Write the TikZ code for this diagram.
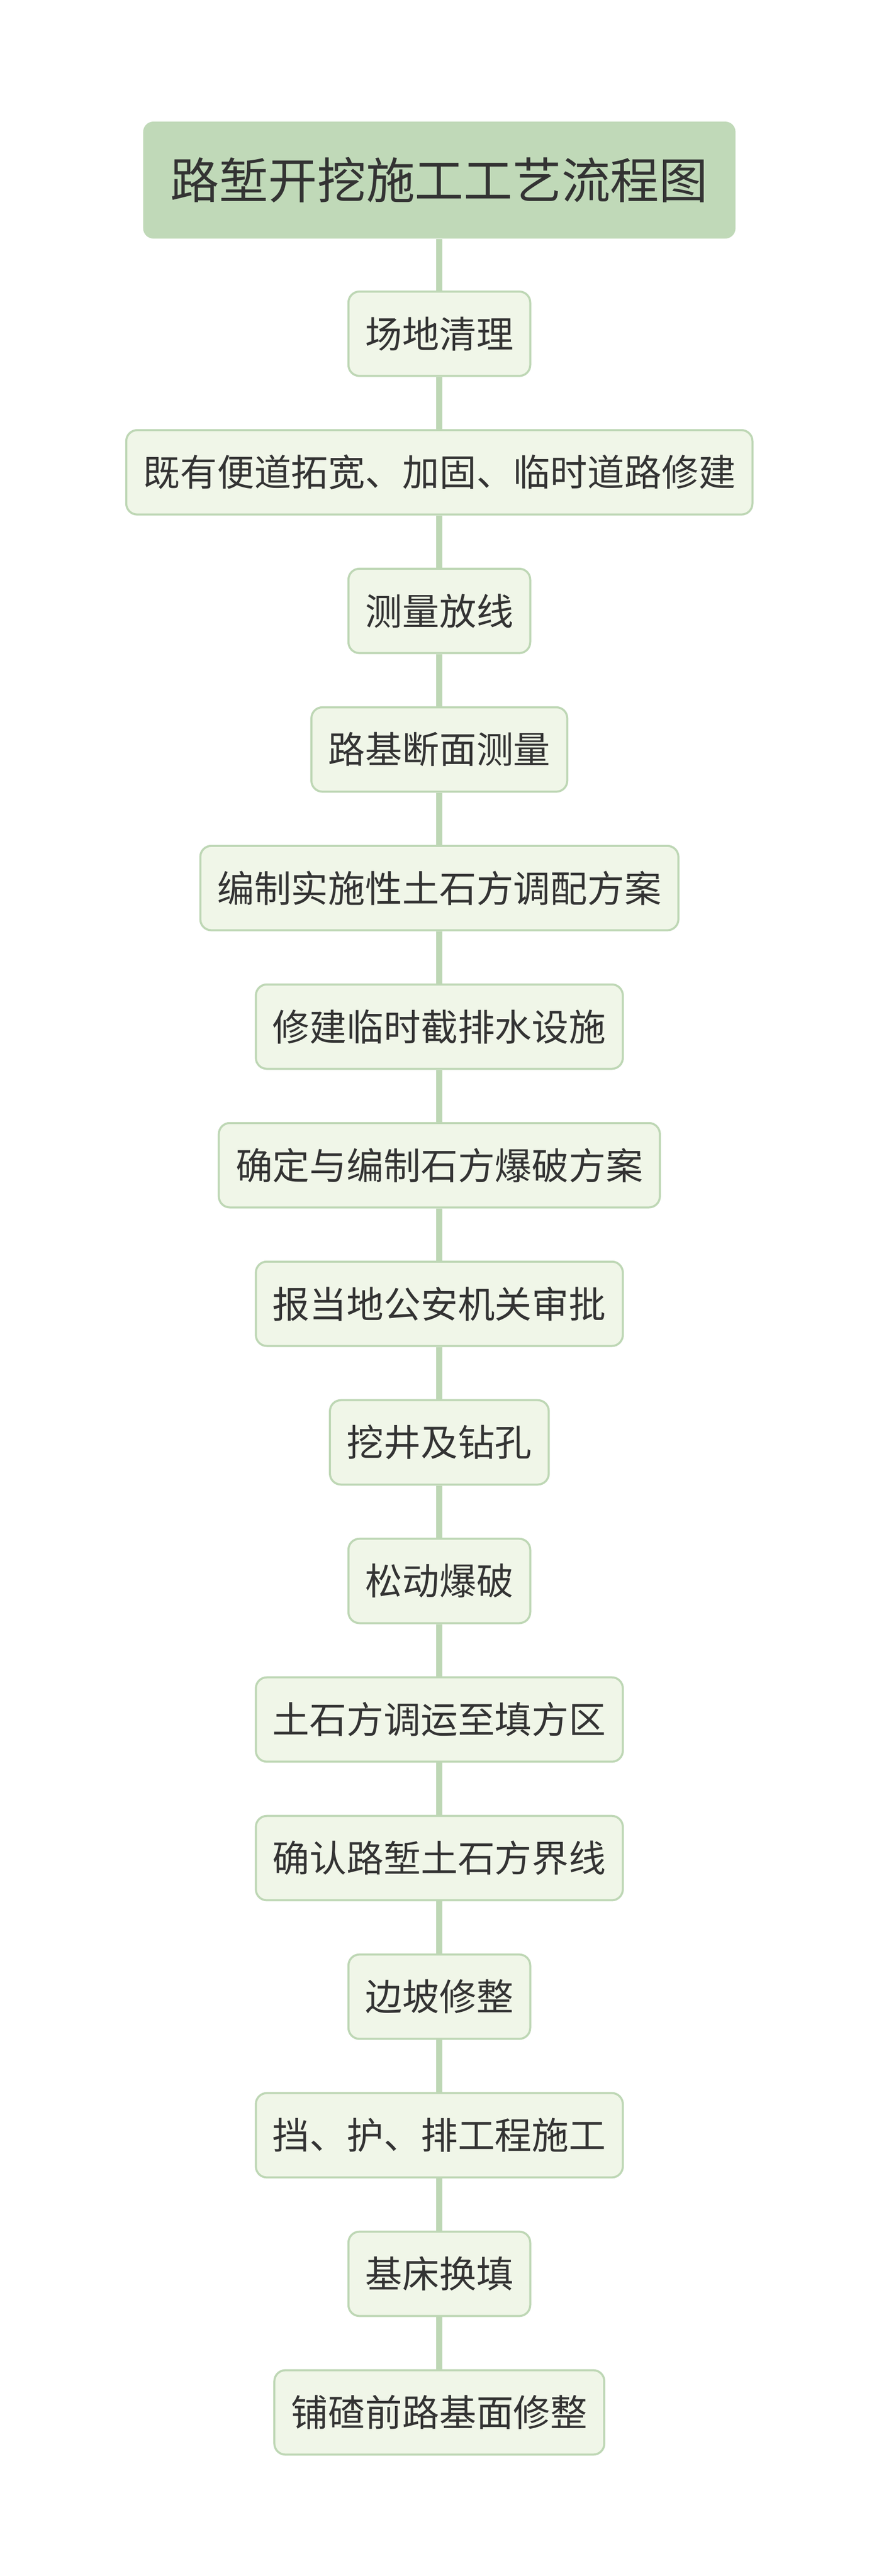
\documentclass[tikz,border=0pt]{standalone}
\usepackage{fontspec}
\setmainfont{Noto Sans CJK SC}
\usepackage{tikz}
\usetikzlibrary{shapes,arrows,positioning,calc}
\usepackage{xcolor}
\definecolor{titlegreen}{RGB}{192,217,184}
\definecolor{linegreen}{RGB}{190,215,181}
\definecolor{stepfill}{RGB}{240,246,232}
\definecolor{textgray}{RGB}{51,51,51}

\begin{document}
\begin{tikzpicture}[
        titlebox/.style={rectangle,fill=titlegreen,rounded corners=0.3cm,inner xsep=0.8cm,minimum height=3.41cm,text=textgray,font=\fontsize{40.5}{48}\selectfont},
        stepbox/.style={rectangle,fill=stepfill,draw=linegreen,line width=0.06cm,rounded corners=0.32cm,inner xsep=0.49cm,minimum height=2.46cm,text=textgray,font=\fontsize{30.7}{37}\selectfont},
        link/.style={draw=linegreen,line width=0.18cm}
    ]
        \useasboundingbox (0,0) rectangle (25.6,-75.1);

        % Title
        \node[titlebox] (title) at (12.8,-5.25) {路堑开挖施工工艺流程图};

        % Steps
        \node[stepbox] (clear) at (12.8,-9.73) {场地清理};
        \node[stepbox] (road) at (12.8,-13.77) {既有便道拓宽、加固、临时道路修建};
        \node[stepbox] (survey) at (12.8,-17.81) {测量放线};
        \node[stepbox] (section) at (12.8,-21.85) {路基断面测量};
        \node[stepbox] (earthplan) at (12.8,-25.89) {编制实施性土石方调配方案};
        \node[stepbox] (drain) at (12.8,-29.93) {修建临时截排水设施};
        \node[stepbox] (blastplan) at (12.8,-33.97) {确定与编制石方爆破方案};
        \node[stepbox] (approve) at (12.8,-38.01) {报当地公安机关审批};
        \node[stepbox] (drill) at (12.8,-42.05) {挖井及钻孔};
        \node[stepbox] (blast) at (12.8,-46.09) {松动爆破};
        \node[stepbox] (haul) at (12.8,-50.13) {土石方调运至填方区};
        \node[stepbox] (boundary) at (12.8,-54.17) {确认路堑土石方界线};
        \node[stepbox] (slope) at (12.8,-58.21) {边坡修整};
        \node[stepbox] (retain) at (12.8,-62.25) {挡、护、排工程施工};
        \node[stepbox] (refill) at (12.8,-66.29) {基床换填};
        \node[stepbox] (finish) at (12.8,-70.33) {铺碴前路基面修整};

        % Connectors
        \draw[link] (title) -- (clear);
        \draw[link] (clear) -- (road);
        \draw[link] (road) -- (survey);
        \draw[link] (survey) -- (section);
        \draw[link] (section) -- (earthplan);
        \draw[link] (earthplan) -- (drain);
        \draw[link] (drain) -- (blastplan);
        \draw[link] (blastplan) -- (approve);
        \draw[link] (approve) -- (drill);
        \draw[link] (drill) -- (blast);
        \draw[link] (blast) -- (haul);
        \draw[link] (haul) -- (boundary);
        \draw[link] (boundary) -- (slope);
        \draw[link] (slope) -- (retain);
        \draw[link] (retain) -- (refill);
        \draw[link] (refill) -- (finish);
    \end{tikzpicture}
\end{document}
